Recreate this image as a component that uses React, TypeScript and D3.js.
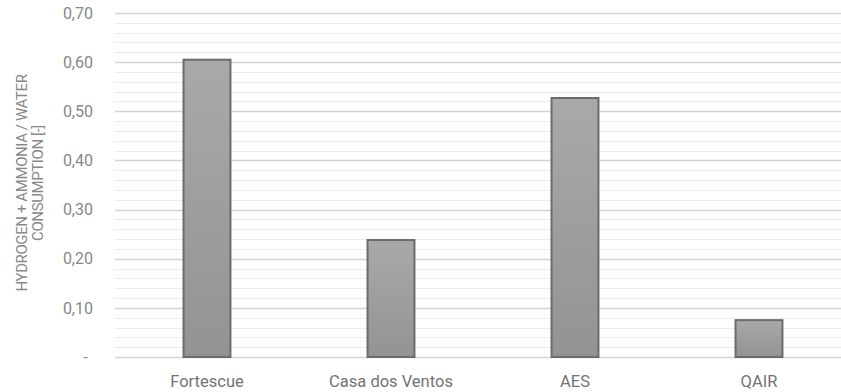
import React from "react";
import * as d3 from "d3";

const categories: string[] = ["Fortescue", "Casa dos Ventos", "AES", "QAIR"];
const values: number[] = [0.605, 0.238, 0.527, 0.075];
const yTicks: number[] = [0, 0.1, 0.2, 0.3, 0.4, 0.5, 0.6, 0.7];
const yTitle: string[] = ["HYDROGEN + AMMONIA / WATER", "CONSUMPTION [-]"];

const W = 841;
const H = 392;
const left = 115;
const right = 851;
const top = 13;
const bottom = 357;

export default function App() {
  const x = d3
    .scaleBand<string>()
    .domain(categories)
    .range([left, right])
    .paddingInner(0.745)
    .paddingOuter(0.3725);
  const y = d3.scaleLinear().domain([0, 0.7]).range([bottom, top]);
  const minor = d3.range(0, 36).map((i) => i * 0.02).filter((v) => v <= 0.7001);
  const fmt = (v: number) => (v === 0 ? "-" : d3.format(".2f")(v).replace(".", ","));
  const font = "Roboto, 'Liberation Sans', Arial, sans-serif";

  return (
    <svg
      width={W}
      height={H}
      style={{ position: "absolute", left: 0, top: 0, background: "#fff" }}
      fontFamily={font}
    >
      <defs>
        <linearGradient id="barGrad" x1="0" y1="0" x2="0" y2="1">
          <stop offset="0%" stopColor="#a9a9a9" />
          <stop offset="100%" stopColor="#939393" />
        </linearGradient>
      </defs>
      {minor.map((v, i) => {
        const isMajor = Math.abs(v * 10 - Math.round(v * 10)) < 1e-6;
        return (
          <line
            key={i}
            x1={left}
            x2={W}
            y1={Math.round(y(v)) + 0.5}
            y2={Math.round(y(v)) + 0.5}
            stroke={isMajor ? "#d4d4d4" : "#ececec"}
            strokeWidth={isMajor ? 1.5 : 1}
          />
        );
      })}
      {categories.map((c, i) => (
        <rect
          key={c}
          x={x(c)!}
          y={y(values[i])}
          width={x.bandwidth()}
          height={y(0) - y(values[i])}
          fill="url(#barGrad)"
          stroke="#6b6b6b"
          strokeWidth={2}
        />
      ))}
      {yTicks.map((t) => (
        <text
          key={t}
          x={t === 0 ? 88 : 93}
          y={y(t)}
          dy="0.36em"
          textAnchor="end"
          fontSize={16}
          fill="#888888"
        >
          {fmt(t)}
        </text>
      ))}
      {categories.map((c) => (
        <text
          key={c}
          x={x(c)! + x.bandwidth() / 2}
          y={387}
          textAnchor="middle"
          fontSize={16.5}
          fill="#737373"
        >
          {c}
        </text>
      ))}
      <text
        transform={`translate(0,183) rotate(-90)`}
        textAnchor="middle"
        fontSize={15}
        letterSpacing={-0.4}
        fill="#888888"
      >
        {yTitle.map((l, i) => (
          <tspan key={i} x={0} y={27 + i * 16}>
            {l}
          </tspan>
        ))}
      </text>
    </svg>
  );
}
